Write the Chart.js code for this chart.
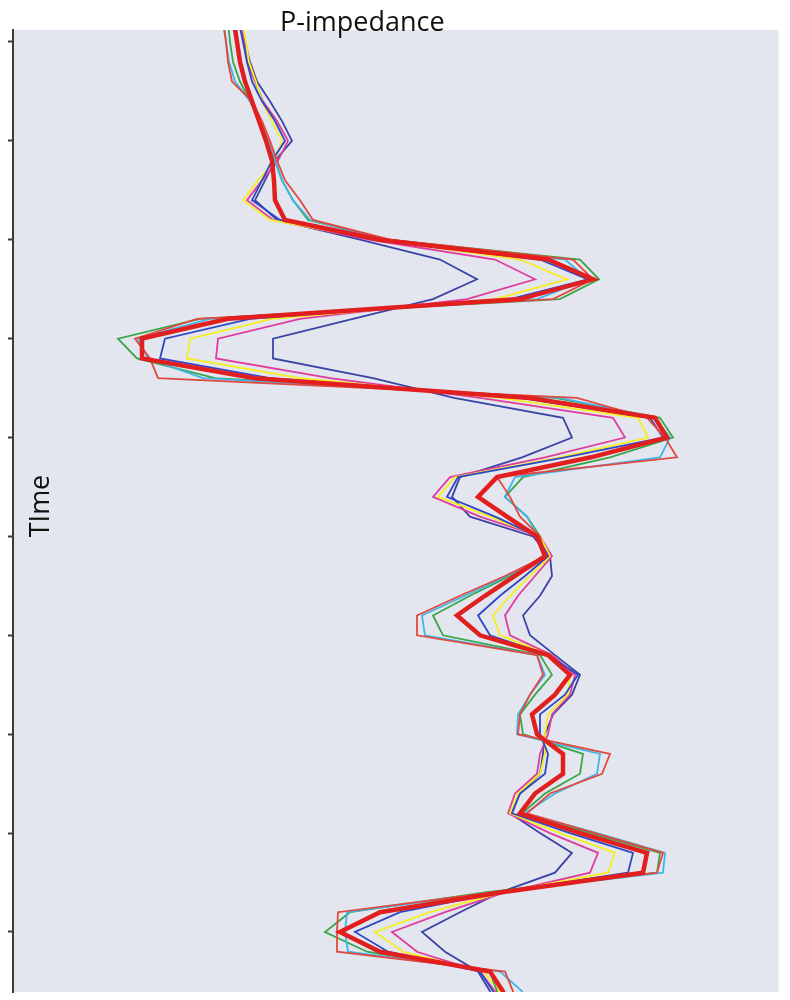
<!DOCTYPE html>
<html>
<head>
<meta charset="utf-8">
<title>P-impedance</title>
<script src="https://cdn.jsdelivr.net/npm/chart.js@4.4.1/dist/chart.umd.min.js"></script>
<style>
  html, body { margin: 0; padding: 0; background: #ffffff; }
  #wrap { width: 790px; height: 1000px; }
</style>
</head>
<body>
<div id="wrap"><canvas id="chart" width="790" height="1000"></canvas></div>
<script>
// two-way time (ms), one sample every 2 ms
const timeMs = [1498, 1500, 1502, 1504, 1506, 1508, 1510, 1512, 1514, 1516, 1518, 1520, 1522, 1524, 1526, 1528, 1530,
    1532, 1534, 1536, 1538, 1540, 1542, 1544, 1546, 1548, 1550, 1552, 1554, 1556, 1558, 1560, 1562, 1564, 1566, 1568,
    1570, 1572, 1574, 1576, 1578, 1580, 1582, 1584, 1586, 1588, 1590, 1592, 1594, 1596, 1598];
const timeTicks = [1500, 1510, 1520, 1530, 1540, 1550, 1560, 1570, 1580, 1590];

// P-impedance traces
const thinRed = [6230, 6260, 6280, 6320, 6520, 6620, 6700, 6770, 6850, 7000, 7130, 7900, 9730, 9930, 9530, 5970, 5350,
    5500, 5580, 9770, 10470, 10650, 10770, 8970, 9100, 9200, 9400, 9450, 9050, 8600, 8170, 8170, 9370, 9430, 9300, 9200,
    9180, 10100, 10020, 9500, 9270, 9950, 10630, 10570, 8930, 7380, 7370, 7370, 9050, 9130, 9180];
const cyan = [6240, 6260, 6290, 6350, 6500, 6600, 6680, 6750, 6820, 6930, 7100, 7850, 9650, 9880, 9370, 6100, 5380,
    5480, 6030, 9600, 10550, 10700, 10600, 9150, 9050, 9270, 9380, 9450, 9070, 8650, 8220, 8250, 9370, 9450, 9300, 9180,
    9170, 10000, 9970, 9550, 9250, 9970, 10650, 10630, 8950, 7470, 7450, 7480, 9000, 9220, 9270];
const green = [6280, 6300, 6330, 6400, 6500, 6600, 6680, 6750, 6820, 6930, 7080, 7880, 9800, 9990, 9600, 6000, 5180,
    5370, 6150, 9550, 10600, 10730, 10100, 9230, 9050, 9270, 9400, 9450, 9100, 8700, 8330, 8430, 9400, 9520, 9350, 9200,
    9230, 9830, 9800, 9450, 9220, 9900, 10600, 10570, 8850, 7500, 7250, 7670, 8900, 8970, 9020];
const thickRed = [6340, 6370, 6400, 6450, 6520, 6590, 6660, 6720, 6740, 6750, 6850, 7800, 9480, 9930, 9200, 6280, 5420,
    5420, 6550, 9300, 10550, 10670, 9910, 8970, 8780, 9070, 9370, 9450, 9150, 8850, 8570, 8800, 9480, 9700, 9550, 9320,
    9370, 9630, 9630, 9350, 9200, 9800, 10470, 10430, 9000, 7800, 7400, 7800, 8900, 9030, 9080];
const blue = [6390, 6430, 6470, 6520, 6620, 6750, 6850, 6720, 6620, 6520, 6800, 7750, 9400, 9880, 9100, 6500, 5650,
    5600, 6700, 9200, 10500, 10630, 9650, 8580, 8470, 8950, 9380, 9480, 9250, 9000, 8780, 8900, 9480, 9780, 9650, 9400,
    9400, 9480, 9450, 9200, 9120, 9700, 10330, 10280, 9000, 8000, 7550, 7880, 8800, 8930, 8980];
const yellow = [6420, 6460, 6490, 6560, 6620, 6720, 6820, 6750, 6580, 6430, 6700, 7800, 9200, 9670, 8950, 6720, 5900,
    5870, 7000, 9000, 10380, 10480, 9600, 8550, 8380, 8900, 9400, 9500, 9300, 9100, 8930, 9000, 9500, 9700, 9680, 9480,
    9450, 9450, 9400, 9180, 9100, 9600, 10150, 10080, 9030, 8300, 7750, 8030, 8830, 9000, 9050];
const magenta = [6410, 6440, 6470, 6550, 6630, 6770, 6880, 6780, 6620, 6470, 6730, 7700, 8950, 9350, 8670, 7000, 6180,
    6160, 7300, 8800, 10130, 10250, 9450, 8500, 8330, 8800, 9400, 9520, 9350, 9180, 9050, 9100, 9520, 9750, 9700, 9520,
    9480, 9400, 9370, 9150, 9080, 9500, 9980, 9900, 9050, 8450, 7920, 8170, 8800, 8950, 9000];
const darkBlue = [6420, 6450, 6500, 6570, 6700, 6820, 6920, 6750, 6650, 6550, 6770, 7600, 8400, 8770, 8330, 7530, 6730,
    6730, 7730, 8540, 9630, 9720, 9220, 8600, 8520, 8700, 9330, 9500, 9520, 9400, 9230, 9300, 9550, 9800, 9720, 9530,
    9450, 9430, 9400, 9200, 9100, 9400, 9720, 9550, 9000, 8600, 8220, 8450, 8780, 8900, 8950];

// first entry ends up on top
const traces = [
    { label: 'thick red', values: thickRed, color: '#e11f1f', width: 4.5 },
    { label: 'thin red', values: thinRed, color: '#e2483e', width: 1.8 },
    { label: 'cyan', values: cyan, color: '#3fb6ea', width: 1.8 },
    { label: 'green', values: green, color: '#38a648', width: 1.8 },
    { label: 'blue', values: blue, color: '#2e47c4', width: 1.8 },
    { label: 'yellow', values: yellow, color: '#f6ee1e', width: 1.8 },
    { label: 'magenta', values: magenta, color: '#e03c9e', width: 1.8 },
    { label: 'dark blue', values: darkBlue, color: '#3a44a6', width: 1.8 }
];

const plotBackground = {
    id: 'plotBackground',
    beforeDraw(chart) {
        const { ctx, chartArea } = chart;
        ctx.save();
        ctx.fillStyle = '#e3e6ee';
        ctx.fillRect(chartArea.left, chartArea.top, chartArea.right - chartArea.left, chartArea.bottom - chartArea.top);
        ctx.strokeStyle = '#f2f3f7';
        ctx.lineWidth = 1;
        ctx.beginPath();
        ctx.moveTo(chartArea.right + 0.5, chartArea.top);
        ctx.lineTo(chartArea.right + 0.5, chartArea.bottom);
        ctx.stroke();
        ctx.restore();
    }
};

const labels = {
    id: 'labels',
    afterDraw(chart) {
        const { ctx, chartArea } = chart;
        ctx.save();
        ctx.fillStyle = '#111111';
        ctx.font = '27px "Open Sans", sans-serif';
        ctx.textBaseline = 'alphabetic';
        ctx.textAlign = 'left';
        ctx.fillText('P-impedance', 280, 31);
        ctx.translate(49, (chartArea.top + chartArea.bottom) / 2 - 5);
        ctx.rotate(-Math.PI / 2);
        ctx.textAlign = 'center';
        ctx.fillText('TIme', 0, 0);
        ctx.restore();
    }
};

new Chart(document.getElementById('chart'), {
    type: 'scatter',
    data: {
        datasets: traces.map(t => ({
            label: t.label,
            data: t.values.map((v, i) => ({ x: v, y: timeMs[i] })),
            showLine: true,
            borderColor: t.color,
            backgroundColor: t.color,
            borderWidth: t.width,
            pointRadius: 0,
            tension: 0,
            clip: 0
        }))
    },
    options: {
        responsive: false,
        animation: false,
        devicePixelRatio: 1,
        layout: { padding: { left: 8, right: 12, top: 30, bottom: 8 } },
        plugins: {
            legend: { display: false },
            tooltip: { enabled: false }
        },
        scales: {
            x: {
                type: 'linear',
                display: false,
                min: 4130,
                max: 11780
            },
            y: {
                type: 'linear',
                reverse: true,
                min: 1498.79,
                max: 1596.07,
                afterBuildTicks: scale => {
                    scale.ticks = timeTicks.map(v => ({ value: v }));
                },
                ticks: { display: false },
                grid: {
                    drawOnChartArea: false,
                    drawTicks: true,
                    tickLength: 5,
                    tickWidth: 2,
                    color: '#3a3a3a'
                },
                border: { display: true, color: '#3a3a3a', width: 2 }
            }
        }
    },
    plugins: [plotBackground, labels]
});
</script>
</body>
</html>
